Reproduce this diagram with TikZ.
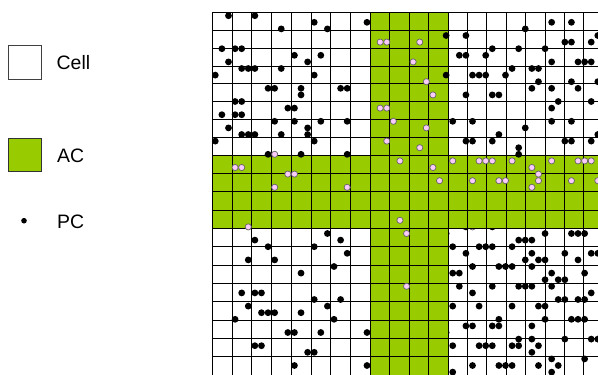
\documentclass[tikz,border=0pt]{standalone}
\usepackage{fontspec}
\setmainfont{Liberation Sans}
\definecolor{acgreen}{RGB}{153,204,0}
\definecolor{pcpink}{RGB}{250,204,250}
\definecolor{pcedge}{RGB}{100,100,100}
\tikzset{
  blackpc/.style={fill=black,draw=none},
  pinkpc/.style={fill=pcpink,draw=pcedge,line width=0.7bp},
  gridline/.style={line width=0.8bp,draw=black},
  legtext/.style={anchor=west,inner sep=0pt,font=\fontsize{19.5}{22}\selectfont},
  legbox/.style={line width=0.8bp},
}
\newcommand{\lx}[1]{215.3+6.595*#1}
\newcommand{\ly}[1]{15.7+6.6*#1}
\begin{document}
\begin{tikzpicture}[x=1bp,y=-1bp]
\useasboundingbox (0,0) rectangle (598,374);
\fill[white] (0,0) rectangle (598,374);
\begin{scope}
\clip (0,0) rectangle (598,374);
% dots partly covered by the AC band
\foreach \i/\j in {38/32,42/32,35/33,35/48}
  \fill[blackpc] ({\lx{\i}},{\ly{\j}}) circle (3.4);
\foreach \i/\j in {39/32}
  \filldraw[pinkpc] ({\lx{\i}},{\ly{\j}}) circle (3.1);
% AC bands
\fill[acgreen] (370.3,12.5) rectangle (447.9,376);
\fill[acgreen] (212.3,154.9) rectangle (605,228.3);
% grid
\foreach \x in {212.3,232.0,251.8,271.5,291.3,311.0,330.8,350.5,370.3,389.7,409.1,428.5,447.9,467.3,486.7,506.1,525.5,544.9,564.3,583.7}
  \draw[gridline] (\x,12.5) -- (\x,376);
\foreach \y in {12.5,30.3,48.1,65.9,83.7,101.5,119.3,137.1,154.9,173.25,191.6,209.95,228.3,246.65,265.0,283.35,301.7,320.05,338.4,356.75}
  \draw[gridline] (212.3,\y) -- (605,\y);
% black PCs
\foreach \i/\j in {2/0,6/0,15/1,23/1,10/2,17/2,1/5,3/5,4/5,12/6,16/6,2/7,14/7,4/8,5/8,6/8,10/8,0/9,15/9,8/11,9/11,13/11,13/12,19/11,20/11,3/13,4/13,11/14,12/14,1/15,3/15,4/15,9/16,12/16,16/16,20/16,2/17,14/17,
51/1,54/1,47/2,35/3,38/3,58/3,53/4,54/4,57/4,37/6,38/6,41/6,42/5,46/5,50/5,51/7,55/7,56/7,57/7,35/9,39/9,40/9,41/9,44/9,45/8,48/8,49/8,49/10,48/11,51/11,54/10,55/11,58/10,38/12,42/12,43/12,52/13,51/14,57/13,36/16,39/16,47/17,51/16,54/16,
4/18,5/18,6/18,10/18,14/18,0/19,15/19,8/21,13/21,20/21,17/33,6/34,19/34,8/35,15/35,20/36,5/37,9/37,
43/18,58/18,38/19,39/19,42/19,46/20,46/21,53/19,54/19,57/19,
50/33,54/33,55/33,56/33,46/34,47/34,48/34,36/35,40/35,41/35,42/35,45/35,38/36,48/36,53/36,57/36,58/36,47/37,49/37,50/37,55/37,
39/38,43/38,44/38,45/38,48/38,36/39,37/39,51/39,56/39,50/40,52/40,53/40,37/41,42/41,46/41,47/41,48/41,51/41,39/42,57/42,52/43,53/43,55/43,56/43,36/44,40/44,45/44,49/44,50/44,43/46,50/46,54/46,55/46,56/46,38/47,39/47,42/47,43/47,48/47,46/49,48/49,53/49,57/49,58/49,36/50,40/50,41/50,42/50,45/50,46/50,49/50,48/51,51/52,56/52,39/53,43/53,44/53,45/53,49/53,52/53,51/54,36/54,
18/38,13/39,4/42,6/42,7/42,15/43,19/43,5/44,17/44,7/45,8/45,9/45,13/45,3/46,18/46,11/48,12/48,16/48,23/48,6/50,7/50,14/51,15/51,12/53,23/53}
  \fill[blackpc] ({\lx{\i}},{\ly{\j}}) circle (3.4);
% PCs inside AC
\foreach \i/\j in {25/4,26/4,31/4,30/7,32/10,33/12,25/14,26/14,27/16,32/17,26/19,31/20,9/21,28/22,36/22,40/22,41/22,42/22,45/22,51/22,55/22,56/22,57/22,3/23,4/23,33/23,48/23,11/24,12/24,49/24,9/26,20/26,34/25,39/25,43/25,44/25,49/25,54/25,58/25,48/26,28/31,5/32,29/33,29/41}
  \filldraw[pinkpc] ({\lx{\i}},{\ly{\j}}) circle (3.1);
\end{scope}
% legend
\draw[legbox,draw=black!75,fill=white] (8.3,45) rectangle (41.7,79);
\node[legtext] (lcell) at (56.5,63) {Cell};
\draw[legbox,draw=black!80,fill=acgreen] (8.3,138.3) rectangle (41.7,171.7);
\node[legtext] (lac) at (57,156) {AC};
\fill[blackpc] (24,220.7) circle (2.8);
\node[legtext] (lpc) at (57,221.5) {PC};
\end{tikzpicture}
\end{document}
